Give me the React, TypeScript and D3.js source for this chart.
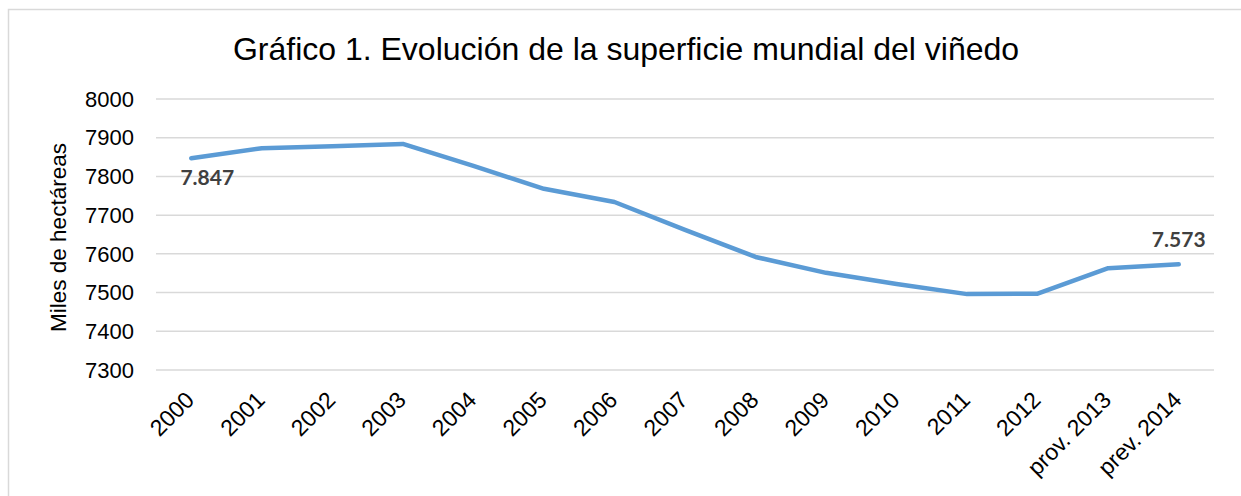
import { useEffect, useRef } from 'react';
import * as d3 from 'd3';

const categories = [
  '2000', '2001', '2002', '2003', '2004', '2005', '2006', '2007',
  '2008', '2009', '2010', '2011', '2012', 'prov. 2013', 'prev. 2014',
];
const superficie = [
  7847, 7873, 7878, 7884, 7827, 7768, 7734, 7662,
  7592, 7551, 7522, 7496, 7497, 7563, 7573,
];
const yTicks = [7300, 7400, 7500, 7600, 7700, 7800, 7900, 8000];
const labelled = [0, 14];

export default function App() {
  const ref = useRef<SVGSVGElement | null>(null);

  useEffect(() => {
    const W = 1241;
    const H = 496;
    const margin = { top: 99, right: 27, bottom: 126, left: 156 };
    const width = W - margin.left - margin.right;
    const height = H - margin.top - margin.bottom;

    const root = d3.select(ref.current);
    root.selectAll('*').remove();

    // chart border
    root
      .append('rect')
      .attr('x', 8.5)
      .attr('y', 9.5)
      .attr('width', W + 20)
      .attr('height', H + 20)
      .attr('fill', '#fff')
      .attr('stroke', '#d9d9d9')
      .attr('stroke-width', 1.5);

    const svg = root
      .append('g')
      .attr('transform', `translate(${margin.left},${margin.top})`);

    const x = d3.scaleBand().domain(categories).range([0, width]);
    const y = d3.scaleLinear().domain([7300, 8000]).range([height, 0]);

    // gridlines
    svg
      .selectAll('line.grid')
      .data(yTicks)
      .enter()
      .append('line')
      .attr('class', 'grid')
      .attr('x1', 0)
      .attr('x2', width)
      .attr('y1', (d) => y(d))
      .attr('y2', (d) => y(d))
      .attr('stroke', '#d9d9d9')
      .attr('stroke-width', 1.5);

    // y tick labels
    svg
      .selectAll('text.ytick')
      .data(yTicks)
      .enter()
      .append('text')
      .attr('class', 'ytick')
      .attr('x', -22)
      .attr('y', (d) => y(d))
      .attr('dy', '0.35em')
      .attr('text-anchor', 'end')
      .style('font-family', 'Liberation Sans, Arial, sans-serif')
      .style('font-size', '22px')
      .style('fill', '#000')
      .text((d) => d);

    // x tick labels
    svg
      .selectAll('text.xtick')
      .data(categories)
      .enter()
      .append('text')
      .attr('class', 'xtick')
      .attr(
        'transform',
        (d) => `translate(${x(d)! + x.bandwidth() / 2 - 7},${height + 20}) rotate(-45)`,
      )
      .attr('text-anchor', 'end')
      .attr('dy', '0.7em')
      .style('font-family', 'Liberation Sans, Arial, sans-serif')
      .style('font-size', '23px')
      .style('fill', '#000')
      .text((d) => d);

    // line
    const line = d3
      .line<number>()
      .x((_d, i) => x(categories[i])! + x.bandwidth() / 2)
      .y((d) => y(d));

    svg
      .append('path')
      .datum(superficie)
      .attr('d', line)
      .attr('fill', 'none')
      .attr('stroke', '#5b9bd5')
      .attr('stroke-width', 4.5)
      .attr('stroke-linejoin', 'round')
      .attr('stroke-linecap', 'round');

    // data labels
    svg
      .selectAll('text.dlabel')
      .data(labelled)
      .enter()
      .append('text')
      .attr('class', 'dlabel')
      .attr('x', (i) => x(categories[i])! + x.bandwidth() / 2 + (i === 0 ? 16 : 0))
      .attr('y', (i) => y(superficie[i]) + (i === 0 ? 27 : -17))
      .attr('text-anchor', 'middle')
      .style('font-family', 'Lato, Open Sans, sans-serif')
      .style('font-weight', 'bold')
      .style('font-size', '21px')
      .style('fill', '#404040')
      .text((i) => superficie[i].toFixed(0).replace(/^(\d)(\d{3})$/, '$1.$2'));

    // y axis title
    root
      .append('text')
      .attr('transform', `translate(66,${margin.top + height / 2 + 3}) rotate(-90)`)
      .attr('text-anchor', 'middle')
      .style('font-family', 'Liberation Sans, Arial, sans-serif')
      .style('font-size', '22.5px')
      .style('fill', '#000')
      .text('Miles de hectáreas');

    // title
    root
      .append('text')
      .attr('x', 626)
      .attr('y', 60)
      .attr('text-anchor', 'middle')
      .style('font-family', 'Liberation Sans, Arial, sans-serif')
      .style('font-size', '32px')
      .style('fill', '#000')
      .text('Gráfico 1. Evolución de la superficie mundial del viñedo');
  }, []);

  return (
    <div style={{ position: 'absolute', left: 0, top: 0, width: 1241, height: 496, overflow: 'hidden' }}>
      <svg ref={ref} width={1241} height={496} style={{ display: 'block' }} />
    </div>
  );
}
